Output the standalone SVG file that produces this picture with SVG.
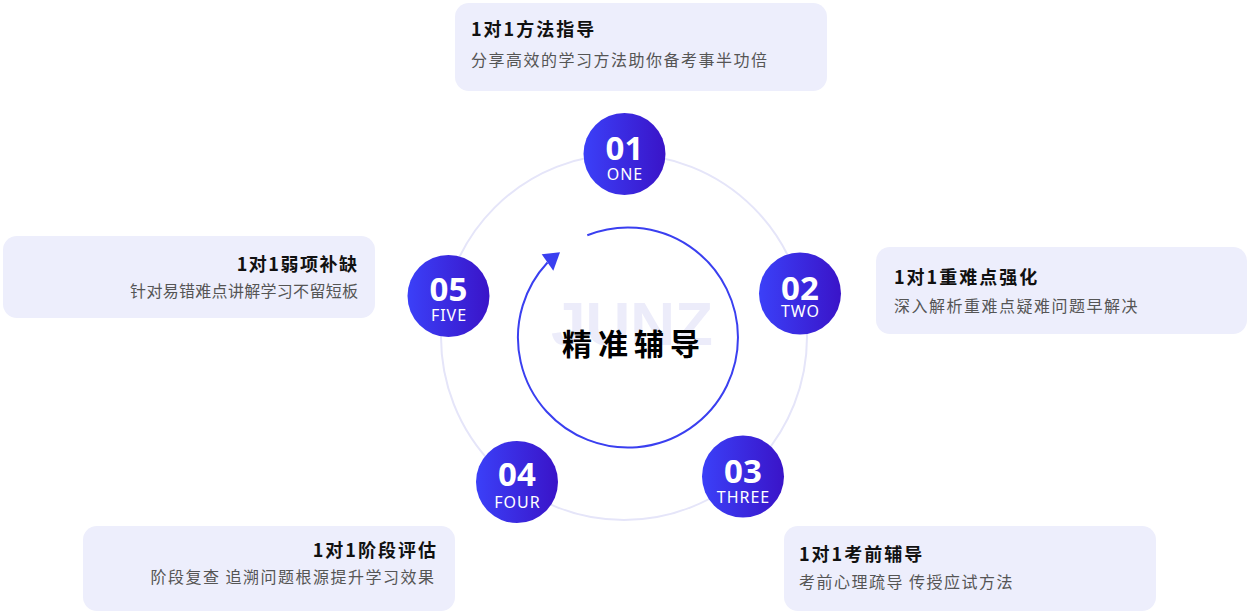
<svg xmlns="http://www.w3.org/2000/svg" width="1249" height="612" viewBox="0 0 1249 612">
<style>
.box{fill:#edeefc;}
.title{font-family:"Noto Sans CJK SC","Noto Sans",sans-serif;font-weight:700;font-size:18px;fill:#111;letter-spacing:2px;}
.sub{font-family:"Noto Sans CJK SC","Noto Sans",sans-serif;font-weight:400;font-size:16px;fill:#555;letter-spacing:1.5px;}
.dot{fill:url(#g);}
.num{font-family:"Noto Sans","Open Sans",sans-serif;font-weight:700;font-size:33px;fill:#fff;text-anchor:middle;}
.lab{font-family:"Noto Sans","Open Sans",sans-serif;font-weight:400;font-size:16px;fill:#fff;text-anchor:middle;letter-spacing:1px;}
</style>
<defs>
<linearGradient id="g" x1="0" y1="0" x2="1" y2="0">
<stop offset="0" stop-color="#3b40f8"/>
<stop offset="1" stop-color="#3a14c8"/>
</linearGradient>
</defs>
<rect width="1249" height="612" fill="#fff"/>
<g id="connectors">
<circle cx="624" cy="337" r="183" fill="none" stroke="#e5e5f9" stroke-width="2"/>
<path d="M587.3 235.3 A110 110 0 1 1 547.5 262.5" fill="none" stroke="#3a3ff0" stroke-width="2"/>
<polygon points="541.7,254.3 560,252.3 553.3,270.7" fill="#3a3ff0"/>
</g>
<g id="center">
<text x="632" y="345" font-family="'Liberation Sans',sans-serif" font-weight="700" font-size="62" fill="#ececfa" text-anchor="middle">JUNZ</text>
<text x="562" y="355" font-family="'Noto Sans CJK SC',sans-serif" font-weight="700" font-size="30" fill="#000" letter-spacing="6">精准辅导</text>
</g>
<g id="node1">
<rect class="box" x="455" y="3" width="372" height="88" rx="14"/>
<text class="title" x="471" y="36">1对1方法指导</text>
<text class="sub" x="471" y="66">分享高效的学习方法助你备考事半功倍</text>
<circle class="dot" cx="624.5" cy="154" r="41"/>
<text class="num" x="624.5" y="160">01</text>
<text class="lab" x="625" y="180">ONE</text>
</g>
<g id="node2">
<rect class="box" x="876" y="247" width="371" height="87" rx="14"/>
<text class="title" x="894" y="284">1对1重难点强化</text>
<text class="sub" x="894" y="312">深入解析重难点疑难问题早解决</text>
<circle class="dot" cx="800" cy="293.5" r="41"/>
<text class="num" x="800" y="299.5">02</text>
<text class="lab" x="800.5" y="316.5">TWO</text>
</g>
<g id="node3">
<rect class="box" x="784" y="526" width="372" height="85" rx="14"/>
<text class="title" x="799" y="561">1对1考前辅导</text>
<text class="sub" x="799" y="588">考前心理疏导 传授应试方法</text>
<circle class="dot" cx="743" cy="476.5" r="41"/>
<text class="num" x="743" y="483">03</text>
<text class="lab" x="743.5" y="503">THREE</text>
</g>
<g id="node4">
<rect class="box" x="83" y="526" width="372" height="85" rx="14"/>
<text class="title" x="438" y="557" text-anchor="end">1对1阶段评估</text>
<text class="sub" x="435.5" y="583" text-anchor="end">阶段复查 追溯问题根源提升学习效果</text>
<circle class="dot" cx="517" cy="482" r="41"/>
<text class="num" x="517" y="486">04</text>
<text class="lab" x="517.5" y="508">FOUR</text>
</g>
<g id="node5">
<rect class="box" x="3" y="236" width="372" height="82" rx="14"/>
<text class="title" x="358.5" y="271" text-anchor="end" style="letter-spacing:1.5px">1对1弱项补缺</text>
<text class="sub" x="358.3" y="297" text-anchor="end" style="letter-spacing:0.3px">针对易错难点讲解学习不留短板</text>
<circle class="dot" cx="448.5" cy="296" r="41"/>
<text class="num" x="448.5" y="301">05</text>
<text class="lab" x="449" y="321">FIVE</text>
</g>
</svg>
